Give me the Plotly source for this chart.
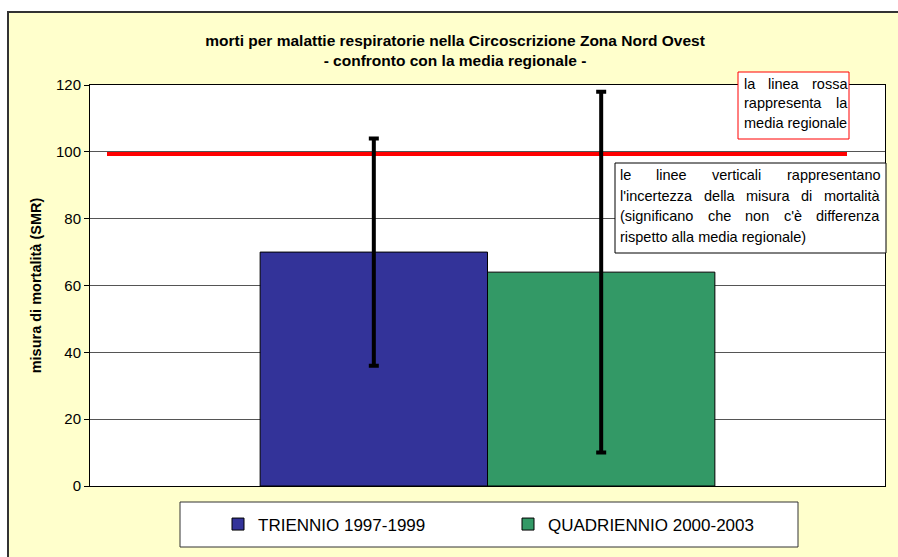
import plotly.graph_objects as go

# ---- data ----
category = ["Circoscrizione Zona Nord Ovest"]
period_names = ["TRIENNIO 1997-1999", "QUADRIENNIO 2000-2003"]
smr_values = [70, 64]
ci_lower = [36, 10]
ci_upper = [104, 118]
regional_mean = 99.5
bar_colors = ["#333399", "#339966"]

title_lines = ["morti per malattie respiratorie nella Circoscrizione Zona Nord Ovest",
               "- confronto con la media regionale -"]
y_title = "misura di mortalità (SMR)"
red_note = [["la", "linea", "rossa"], ["rappresenta", "la"], ["media regionale"]]
black_note = [["le", "linee", "verticali", "rappresentano"],
              ["l'incertezza", "della", "misura", "di", "mortalità"],
              ["(significano", "che", "non", "c'è", "differenza"],
              ["rispetto alla media regionale)"]]

# ---- layout helpers (screen pixel -> paper) ----
W, H = 898, 557
L, R, T, B = 90, 885, 85, 486   # plot area in pixels
def px_x(x):
    return (x - L) / (R - L)
def px_y(y):
    return (B - y) / (B - T)

FONT = "Liberation Sans, Arial, sans-serif"
AW = {'a': 556, 'b': 556, 'c': 500, 'd': 556, 'e': 556, 'f': 278, 'g': 556, 'h': 556,
      'i': 222, 'j': 222, 'k': 500, 'l': 222, 'm': 833, 'n': 556, 'o': 556, 'p': 556,
      'q': 556, 'r': 333, 's': 500, 't': 278, 'u': 556, 'v': 500, 'w': 722, 'x': 500,
      'y': 500, 'z': 500, "'": 191, '(': 333, ')': 333, 'è': 556, 'à': 556, ' ': 278}
def text_w(s, size):
    return sum(AW.get(c, 556) for c in s) * size / 1000.0

def note_lines(lines, left, right, ycs, size):
    anns = []
    for words, yc in zip(lines, ycs):
        if len(words) == 1:
            anns.append(dict(text=words[0], x=px_x(left), y=px_y(yc), xref="paper", yref="paper",
                             xanchor="left", yanchor="middle", showarrow=False, borderpad=0,
                             font=dict(family=FONT, size=size, color="black")))
            continue
        ws = [text_w(w, size) for w in words]
        gap = (right - left - sum(ws)) / (len(words) - 1)
        x = left
        for w, wd in zip(words, ws):
            anns.append(dict(text=w, x=px_x(x), y=px_y(yc), xref="paper", yref="paper",
                             xanchor="left", yanchor="middle", showarrow=False, borderpad=0,
                             font=dict(family=FONT, size=size, color="black")))
            x += wd + gap
    return anns

fig = go.Figure()
for name, val, lo, hi, col in zip(period_names, smr_values, ci_lower, ci_upper, bar_colors):
    fig.add_trace(go.Bar(
        x=category, y=[val], name=name,
        marker=dict(color=col, line=dict(color="black", width=1)),
        error_y=dict(type="data", symmetric=False, array=[hi - val], arrayminus=[val - lo],
                     color="black", thickness=4, width=5),
        hoverinfo="y",
    ))

shapes = [
    # regional mean red line
    dict(type="line", xref="paper", yref="y", x0=px_x(107), x1=px_x(847),
         y0=regional_mean, y1=regional_mean, line=dict(color="#FF0000", width=5), layer="below"),
    # white strips outside chart frame
    dict(type="rect", xref="paper", yref="paper", x0=px_x(-5), x1=px_x(W + 5), y0=px_y(-5), y1=px_y(11),
         fillcolor="white", line=dict(width=0), layer="above"),
    dict(type="rect", xref="paper", yref="paper", x0=px_x(-5), x1=px_x(7), y0=px_y(-5), y1=px_y(H + 5),
         fillcolor="white", line=dict(width=0), layer="above"),
    # chart frame
    dict(type="line", xref="paper", yref="paper", x0=px_x(7), x1=px_x(W + 5), y0=px_y(12), y1=px_y(12),
         line=dict(color="#333333", width=2), layer="above"),
    dict(type="line", xref="paper", yref="paper", x0=px_x(8), x1=px_x(8), y0=px_y(11), y1=px_y(H + 5),
         line=dict(color="#333333", width=2), layer="above"),
    # legend box
    dict(type="rect", xref="paper", yref="paper", x0=px_x(180), x1=px_x(798), y0=px_y(502), y1=px_y(547),
         fillcolor="white", line=dict(color="#333333", width=1), layer="above"),
    # note boxes
    dict(type="rect", xref="paper", yref="paper", x0=px_x(738), x1=px_x(849), y0=px_y(72), y1=px_y(139),
         fillcolor="white", line=dict(color="#FF0000", width=1), layer="above"),
    dict(type="rect", xref="paper", yref="paper", x0=px_x(615), x1=px_x(886), y0=px_y(163), y1=px_y(253),
         fillcolor="white", line=dict(color="black", width=1), layer="above"),
]

annotations = []
annotations += note_lines(red_note, 743, 846, [84, 103.5, 123], 14.5)
annotations += note_lines(black_note, 619, 879, [175, 196, 216.5, 237], 14.5)

fig.update_layout(
    width=W, height=H,
    margin=dict(l=L, r=W - R, t=T, b=H - B, pad=0),
    paper_bgcolor="#FFFFCC",
    plot_bgcolor="white",
    barmode="group", bargap=0.428, bargroupgap=0,
    title=dict(text="<b>" + title_lines[0] + "<br>" + title_lines[1] + "</b>",
               x=px_x(455), xref="paper", xanchor="center",
               y=1 - 45.5 / H, yref="container", yanchor="middle",
               font=dict(family=FONT, size=15.5, color="black")),
    xaxis=dict(type="category", range=[-0.5, 0.5], showticklabels=False, ticks="",
               showline=True, linecolor="black", linewidth=1, mirror=True, showgrid=False),
    yaxis=dict(range=[0, 120], dtick=20, tick0=0, showgrid=True, gridcolor="#555555", gridwidth=1,
               showline=True, linecolor="black", linewidth=1, mirror=True, zeroline=False,
               ticks="outside", ticklen=5, tickcolor="black",
               tickfont=dict(family=FONT, size=15, color="black"),
               title=dict(text="<b>" + y_title + "</b>", standoff=10,
                          font=dict(family=FONT, size=14.5, color="black"))),
    legend=dict(orientation="h", x=px_x(218), y=px_y(524.5), xanchor="left", yanchor="middle",
                bgcolor="rgba(0,0,0,0)", borderwidth=0, entrywidth=245, entrywidthmode="pixels",
                font=dict(family=FONT, size=17, color="black")),
    shapes=shapes,
    annotations=annotations,
)

fig.write_html("out.html", config={"displayModeBar": False},
               post_script="document.body.style.margin='0';document.body.style.overflow='hidden';")
